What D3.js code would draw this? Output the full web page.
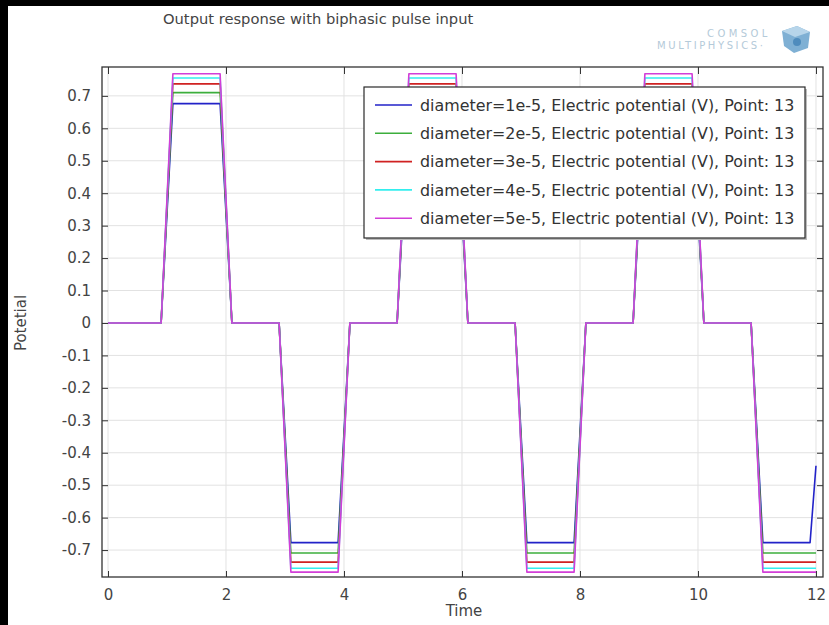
<!DOCTYPE html>
<html lang="en">
<head>
  <meta charset="UTF-8">
  <title>Output response with biphasic pulse input</title>
  <style>
    body, html {
      margin: 0;
      padding: 0;
      background-color: #fff;
    }
    svg text {
      font-family: 'DejaVu Sans', sans-serif;
    }
  </style>
</head>
<body>
  <svg id="svg" width="829" height="625"></svg>
  <script src="https://d3js.org/d3.v7.min.js"></script>
  <script>
    // values
    const time = [0, 0.9, 1.1, 1.9, 2.1, 2.9, 3.1, 3.9, 4.1, 4.9, 5.1, 5.9, 6.1, 6.9, 7.1, 7.9, 8.1, 8.9, 9.1, 9.9, 10.1, 10.9, 11.1, 11.9, 12]
    const dia1 = [0, 0, 0.676, 0.676, 0, 0, -0.677, -0.677, 0, 0, 0.676, 0.676, 0, 0, -0.677, -0.677, 0, 0, 0.676, 0.676, 0, 0, -0.677, -0.677, -0.44]
    const dia2 = [0, 0, 0.71, 0.71, 0, 0, -0.709, -0.709, 0, 0, 0.71, 0.71, 0, 0, -0.709, -0.709, 0, 0, 0.71, 0.71, 0, 0, -0.709, -0.709, -0.709]
    const dia3 = [0, 0, 0.737, 0.737, 0, 0, -0.737, -0.737, 0, 0, 0.737, 0.737, 0, 0, -0.737, -0.737, 0, 0, 0.737, 0.737, 0, 0, -0.737, -0.737, -0.737]
    const dia4 = [0, 0, 0.755, 0.755, 0, 0, -0.756, -0.756, 0, 0, 0.755, 0.755, 0, 0, -0.756, -0.756, 0, 0, 0.755, 0.755, 0, 0, -0.756, -0.756, -0.756]
    const dia5 = [0, 0, 0.768, 0.768, 0, 0, -0.768, -0.768, 0, 0, 0.768, 0.768, 0, 0, -0.768, -0.768, 0, 0, 0.768, 0.768, 0, 0, -0.768, -0.768, -0.768]
    const seriesNames = ['diameter=1e-5', 'diameter=2e-5', 'diameter=3e-5', 'diameter=4e-5', 'diameter=5e-5']
    const seriesValues = [dia1, dia2, dia3, dia4, dia5]
    const xTicks = [0, 2, 4, 6, 8, 10, 12]
    const yTicks = [-0.7, -0.6, -0.5, -0.4, -0.3, -0.2, -0.1, 0, 0.1, 0.2, 0.3, 0.4, 0.5, 0.6, 0.7]
    const colors = ['#2222c8', '#3cae3c', '#d02222', '#33eeee', '#d23ed8']

    const pLeft = 102, pRight = 823, pTop = 67, pBottom = 577
    const svg = d3.select('#svg')

    svg.append('rect').attr('width', 829).attr('height', 625).attr('fill', '#fff')
    // black edge of the screenshot
    svg.append('rect').attr('x', 0).attr('y', 0).attr('width', 829).attr('height', 6).attr('fill', '#000')
    svg.append('rect').attr('x', 0).attr('y', 0).attr('width', 8).attr('height', 625).attr('fill', '#000')

    const xScale = d3.scaleLinear()
      .domain([-0.1017, 12.119])
      .range([pLeft, pRight])
    const yScale = d3.scaleLinear()
      .domain([-0.783, 0.789])
      .range([pBottom, pTop])

    // grid
    svg.append('g')
      .selectAll('line')
      .data(xTicks)
      .enter()
      .append('line')
      .attr('x1', d => xScale(d)).attr('x2', d => xScale(d))
      .attr('y1', pTop).attr('y2', pBottom)
      .attr('stroke', '#e2e2e2')
    svg.append('g')
      .selectAll('line')
      .data(yTicks)
      .enter()
      .append('line')
      .attr('x1', pLeft).attr('x2', pRight)
      .attr('y1', d => yScale(d)).attr('y2', d => yScale(d))
      .attr('stroke', '#e2e2e2')

    const fmt = d => String(+d.toFixed(1))
    const styleAxis = g => {
      g.select('.domain').remove()
      g.selectAll('line').attr('stroke', '#333')
      g.selectAll('text')
        .attr('fill', '#444')
        .style('font-size', '15px')
    }

    svg.append('g')
      .attr('transform', `translate(0, ${pBottom})`)
      .call(d3.axisBottom(xScale).tickValues(xTicks).tickFormat(fmt).tickSizeInner(-6).tickPadding(12))
      .call(styleAxis)
    svg.append('g')
      .attr('transform', `translate(0, ${pTop})`)
      .call(d3.axisTop(xScale).tickValues(xTicks).tickFormat('').tickSizeInner(-7))
      .call(styleAxis)
    svg.append('g')
      .attr('transform', `translate(${pLeft}, 0)`)
      .call(d3.axisLeft(yScale).tickValues(yTicks).tickFormat(fmt).tickSizeInner(-6).tickPadding(11))
      .call(styleAxis)
    svg.append('g')
      .attr('transform', `translate(${pRight}, 0)`)
      .call(d3.axisRight(yScale).tickValues(yTicks).tickFormat('').tickSizeInner(-6))
      .call(styleAxis)

    // frame
    svg.append('rect')
      .attr('x', pLeft).attr('y', pTop)
      .attr('width', pRight - pLeft).attr('height', pBottom - pTop)
      .attr('fill', 'none')
      .attr('stroke', '#333')
      .attr('stroke-width', 1.3)

    const line = d3.line()
      .x((d, i) => xScale(time[i]))
      .y(d => yScale(d))

    svg.append('g')
      .selectAll('path')
      .data(seriesValues)
      .enter()
      .append('path')
      .attr('d', d => line(d))
      .attr('fill', 'none')
      .attr('stroke', (d, i) => colors[i])
      .attr('stroke-width', 1.6)
      .attr('stroke-linejoin', 'round')

    // legend
    const lx = 364, ly = 87, lw = 441, lh = 151
    svg.append('rect')
      .attr('x', lx + 2).attr('y', ly + 2)
      .attr('width', lw).attr('height', lh)
      .attr('fill', '#bbb')
    svg.append('rect')
      .attr('x', lx).attr('y', ly)
      .attr('width', lw).attr('height', lh)
      .attr('fill', '#fff')
      .attr('stroke', '#2a2a2a')
      .attr('stroke-width', 1.2)
    const items = svg.append('g')
      .selectAll('g')
      .data(seriesNames)
      .enter()
      .append('g')
      .attr('transform', (d, i) => `translate(${lx}, ${ly + 18 + i * 28.3})`)
    items.append('line')
      .attr('x1', 11).attr('x2', 48)
      .attr('stroke', (d, i) => colors[i])
      .attr('stroke-width', 1.6)
    items.append('text')
      .attr('x', 56)
      .attr('dy', '0.36em')
      .attr('fill', '#333')
      .style('font-size', '15.9px')
      .text(d => d + ', Electric potential (V), Point: 13')

    // titles
    svg.append('text')
      .attr('x', 163).attr('y', 24)
      .attr('fill', '#444')
      .style('font-size', '14.7px')
      .text('Output response with biphasic pulse input')
    svg.append('text')
      .attr('x', 464).attr('y', 616)
      .attr('text-anchor', 'middle')
      .attr('fill', '#444')
      .style('font-size', '15px')
      .text('Time')
    svg.append('text')
      .attr('transform', 'translate(26, 323) rotate(-90)')
      .attr('text-anchor', 'middle')
      .attr('fill', '#444')
      .style('font-size', '15px')
      .text('Potetial')

    // logo
    const logo = svg.append('g')
    logo.append('text')
      .attr('x', 707).attr('y', 37)
      .attr('fill', '#b4cad9')
      .style('font-size', '10px')
      .style('letter-spacing', '3.4px')
      .text('COMSOL')
    logo.append('text')
      .attr('x', 657).attr('y', 49)
      .attr('fill', '#b4cad9')
      .style('font-size', '10px')
      .style('letter-spacing', '2.6px')
      .text('MULTIPHYSICS\u00b7')
    logo.append('polygon')
      .attr('points', '782,31 797,26 810,32 808,48 794,53 784,46')
      .attr('fill', '#7fb0d4')
    logo.append('polygon')
      .attr('points', '782,31 797,26 810,32 795,37')
      .attr('fill', '#b7d5ea')
    logo.append('circle')
      .attr('cx', 797).attr('cy', 42).attr('r', 4)
      .attr('fill', '#4f8cbd')
  </script>
</body>
</html>
